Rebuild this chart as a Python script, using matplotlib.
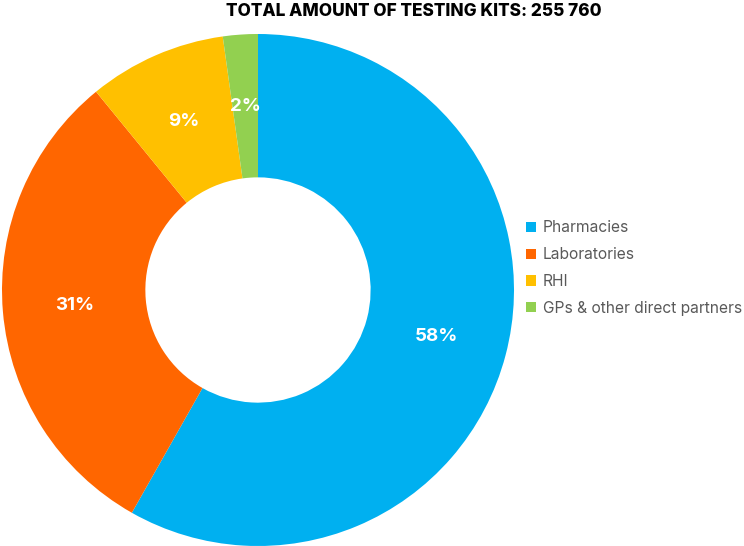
import matplotlib

matplotlib.use("Agg")
import matplotlib.pyplot as plt

# shares of testing kits by channel (%)
channels = ["Pharmacies", "Laboratories", "RHI", "GPs & other direct partners"]
shares = [58.2, 30.9, 8.7, 2.2]
colors = ["#00B0F0", "#FF6600", "#FFC000", "#92D050"]
title = "TOTAL AMOUNT OF TESTING KITS: 255 760"

plt.rcParams["font.family"] = ["Inter", "DejaVu Sans"]

fig = plt.figure(figsize=(7.44, 5.46), dpi=100)
ax = fig.add_axes([2 / 744, 0 / 546, 512 / 744, 512 / 546])

wedges, _, autotexts = ax.pie(
    shares,
    colors=colors,
    startangle=90,
    counterclock=False,
    radius=1.0,
    wedgeprops=dict(width=0.56, edgecolor="none"),
    autopct="%.0f%%",
    pctdistance=0.72,
    textprops=dict(color="white", fontsize=13.5, fontweight="bold"),
)
ax.set_xlim(-1, 1)
ax.set_ylim(-1, 1)
ax.set_aspect("equal")

fig.text(414 / 744, 1 - 12 / 546, title, ha="center", va="center",
         fontsize=12.4, fontweight="heavy", color="black")

leg = fig.legend(
    wedges, channels,
    loc="center left",
    bbox_to_anchor=(512 / 744, 1 - 268 / 546),
    frameon=False,
    fontsize=11.2,
    handlelength=0.65,
    handleheight=0.65,
    handletextpad=0.45,
    labelspacing=0.75,
    labelcolor="#595959",
)

fig.savefig("out.png", dpi=100)
plt.close(fig)
